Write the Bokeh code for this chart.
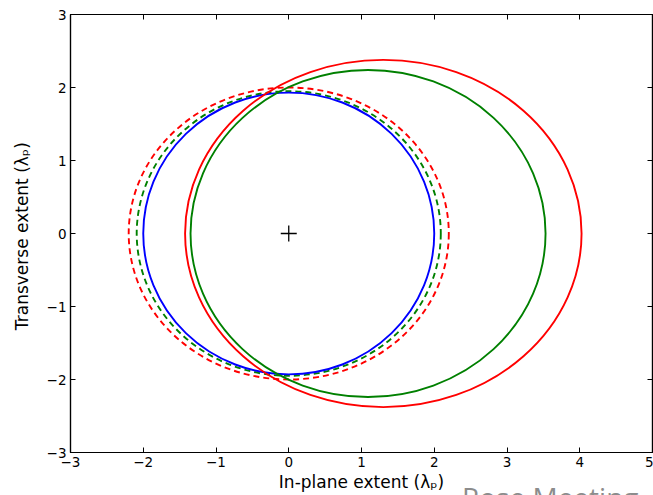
from bokeh.plotting import figure
from bokeh.models import Range1d, LinearAxis, FixedTicker, Title
from bokeh.embed import file_html
from bokeh.resources import INLINE

# Ellipse data (in units of lambda_p)
names = ["red dashed", "green dashed", "blue", "green solid", "red solid"]
center_x = [0.0, 0.0, 0.0, 1.09, 1.30]
center_y = [0.0, 0.0, 0.0, 0.0, 0.0]
widths = [4.40, 4.18, 4.00, 4.88, 5.45]
heights = [4.00, 3.90, 3.86, 4.48, 4.76]
colors = ["#ff0000", "#008000", "#0000ff", "#008000", "#ff0000"]
dashes = ["6 4", "6 4", "solid", "solid", "solid"]

marker_x = [0.0]
marker_y = [0.0]

x_ticks = [-3, -2, -1, 0, 1, 2, 3, 4, 5]
y_ticks = [-3, -2, -1, 0, 1, 2, 3]

FONT = "DejaVu Sans"

p = figure(width=653, height=495, output_backend="svg", toolbar_location=None,
           x_range=Range1d(-3, 5), y_range=Range1d(-3, 3),
           min_border_left=70, min_border_right=1, min_border_top=14, min_border_bottom=43)
p.background_fill_color = "white"
p.border_fill_color = "white"
p.grid.visible = False
p.outline_line_color = "black"
p.outline_line_width = 1.2

for cx, cy, w, h, c, d in zip(center_x, center_y, widths, heights, colors, dashes):
    p.ellipse(x=[cx], y=[cy], width=[w], height=[h], fill_color=None,
              line_color=c, line_width=1.9, line_dash=d)

p.scatter(marker_x, marker_y, marker="cross", size=16, line_color="black", line_width=1.3)

def style_axis(ax, ticks, show_labels):
    ax.ticker = FixedTicker(ticks=ticks)
    ax.minor_tick_line_color = None
    ax.major_tick_in = 5
    ax.major_tick_out = 0
    ax.major_tick_line_color = "black"
    ax.axis_line_color = "black"
    ax.axis_line_width = 1.2
    ax.major_label_text_font = FONT
    ax.axis_label_text_font = FONT
    ax.axis_label_text_font_style = "normal"
    ax.major_label_text_color = "black"
    ax.axis_label_text_color = "black"
    if show_labels:
        ax.major_label_text_font_size = "13.5px"
        ax.axis_label_text_font_size = "17px"
        ax.major_label_standoff = 4
    else:
        ax.major_label_text_font_size = "0px"
        ax.major_label_standoff = 0
        ax.axis_label = None

xa = p.xaxis[0]
ya = p.yaxis[0]
xa.axis_label = "In-plane extent (λₚ)"
ya.axis_label = "Transverse  extent (λₚ)"
style_axis(xa, x_ticks, True)
style_axis(ya, y_ticks, True)
xa.axis_label_standoff = 2
ya.axis_label_standoff = 12
xa.major_label_overrides = {t: str(t).replace("-", "\u2212") for t in x_ticks}
ya.major_label_overrides = {t: str(t).replace("-", "\u2212") for t in y_ticks}

top = LinearAxis()
right = LinearAxis()
style_axis(top, x_ticks, False)
style_axis(right, y_ticks, False)
p.add_layout(top, "above")
p.add_layout(right, "right")

p.add_layout(Title(text="Rose Meeting", align="right", offset=14, standoff=-43,
                   text_font="Open Sans", text_font_size="28px", text_font_style="normal",
                   text_color="#8c8c8c"), "below")

open("out.html", "w").write(file_html(p, INLINE))
